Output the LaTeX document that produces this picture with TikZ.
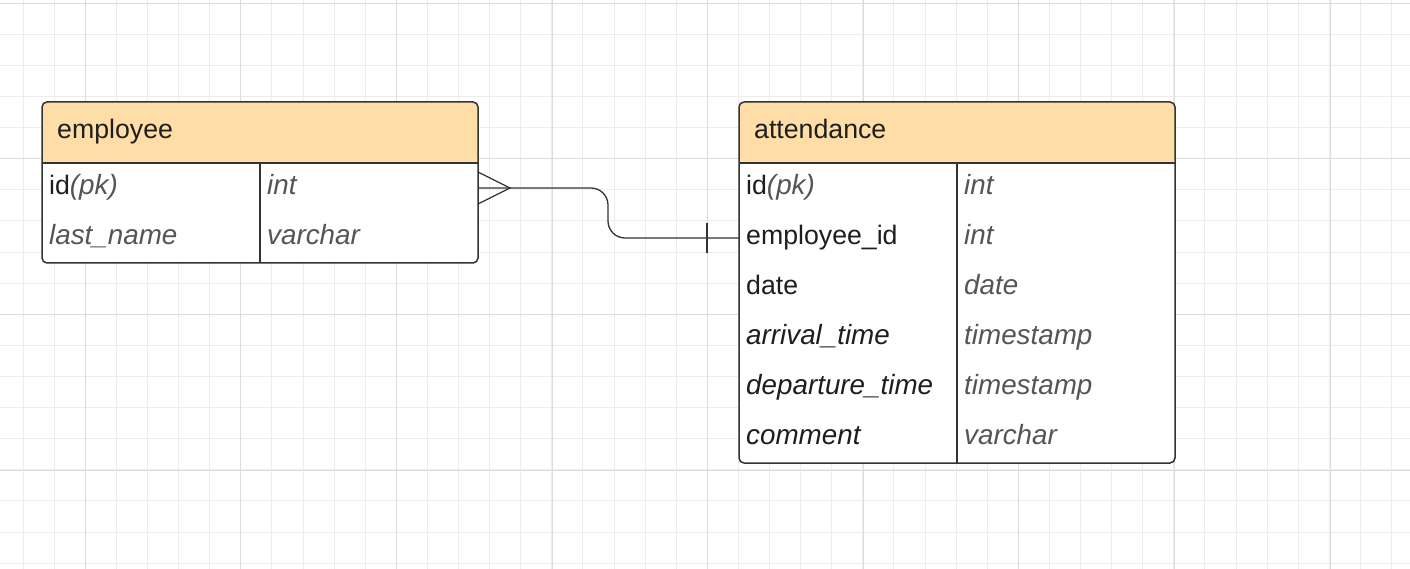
\documentclass[tikz,border=0pt]{standalone}
\usepackage{fontspec}
\setmainfont{Liberation Sans}
\usetikzlibrary{calc}

\definecolor{hdrfill}{HTML}{FFDDA6}
\definecolor{edgeline}{HTML}{333333}
\definecolor{nametext}{HTML}{1E1E1E}
\definecolor{typetext}{HTML}{555555}
\definecolor{gridminor}{HTML}{EDEDED}
\definecolor{gridmajor}{HTML}{DCDCDC}

% italic run, set a touch wider as in the reference
\newcommand{\slant}[1]{{\fontsize{27.8}{32}\selectfont\itshape #1}}

\begin{document}
\begin{tikzpicture}[x=1pt,y=-1pt,
	font=\fontsize{26.7}{32}\selectfont,
	minorline/.style={draw=gridminor,line width=1pt},
	majorline/.style={draw=gridmajor,line width=1pt},
	entity/.style={draw=edgeline,line width=1.5pt,fill=white,rounded corners=5pt,
		anchor=north west,minimum width=436pt,inner sep=0pt,outer sep=0pt,
		path picture={\fill[hdrfill] (path picture bounding box.north west)
			rectangle ([yshift=-61pt]path picture bounding box.north east);}},
	tabletitle/.style={anchor=base west,inner sep=0pt,text=nametext},
	cell/.style={anchor=west,inner sep=0pt,text height=19pt,text depth=6.4pt},
	colname/.style={cell,text=nametext},
	coltype/.style={cell,text=typetext},
	rule/.style={draw=edgeline,line width=1.5pt},
	rel/.style={draw=edgeline,line width=1.3pt}]
\useasboundingbox (0,0) rectangle (1410,569);

% background grid
\foreach \i in {0,...,44}
	\draw[minorline] ({23.1+31.1*\i},0) -- ({23.1+31.1*\i},569);
\foreach \i in {0,...,18}
	\draw[minorline] (0,{3.3+31.1*\i}) -- (1410,{3.3+31.1*\i});
\foreach \i in {0,...,8}
	\draw[majorline] ({85.3+155.6*\i},0) -- ({85.3+155.6*\i},569);
\foreach \i in {0,...,3}
	\draw[majorline] (0,{3.3+155.6*\i}) -- (1410,{3.3+155.6*\i});

% employee
\node[entity,minimum height=161pt] (employee) at (42,102) {};
\node[tabletitle] (employee-title) at ($(employee.north west)+(15,36.3)$) {employee};
\draw[rule] ($(employee.north west)+(0,61)$) -- ($(employee.north east)+(0,61)$);
\draw[rule] ($(employee.north west)+(218,61)$) -- ($(employee.south west)+(218,0)$);
\foreach \n/\t [count=\i from 0] in {
	{id\slant{\color{typetext}(pk)}}/int,
	{\slant{\color{typetext}last\_name}}/varchar} {
	\node[colname] (emp-\i) at ($(employee.north west)+(7,86+50*\i)$) {\n};
	\node[coltype] (emp-type-\i) at ($(employee.north west)+(225,86+50*\i)$) {\slant{\t}};
}

% attendance
\node[entity,minimum height=361pt] (attendance) at (739,102) {};
\node[tabletitle] (attendance-title) at ($(attendance.north west)+(15,36.3)$) {attendance};
\draw[rule] ($(attendance.north west)+(0,61)$) -- ($(attendance.north east)+(0,61)$);
\draw[rule] ($(attendance.north west)+(218,61)$) -- ($(attendance.south west)+(218,0)$);
\foreach \n/\t [count=\i from 0] in {
	{id\slant{\color{typetext}(pk)}}/int,
	{employee\_id}/int,
	date/date,
	{\slant{arrival\_time}}/timestamp,
	{\slant{departure\_time}}/timestamp,
	{\slant{comment}}/varchar} {
	\node[colname] (att-\i) at ($(attendance.north west)+(7,86+50*\i)$) {\n};
	\node[coltype] (att-type-\i) at ($(attendance.north west)+(225,86+50*\i)$) {\slant{\t}};
}

% relation: many attendance rows to one employee
\coordinate (crow) at ($(employee.east |- emp-0)+(32,0)$);
\draw[rel] ($(employee.east |- emp-0)+(0,-16)$) -- (crow) -- ($(employee.east |- emp-0)+(0,16)$);
\draw[rel,rounded corners=17pt] (employee.east |- emp-0) -- (crow)
	-- ($(employee.east |- emp-0)+(130,0)$) -- ($(attendance.west |- att-1)+(-131,0)$)
	-- (attendance.west |- att-1);
\draw[rel] ($(attendance.west |- att-1)+(-32,-15)$) -- ++(0,30);
\end{tikzpicture}
\end{document}
